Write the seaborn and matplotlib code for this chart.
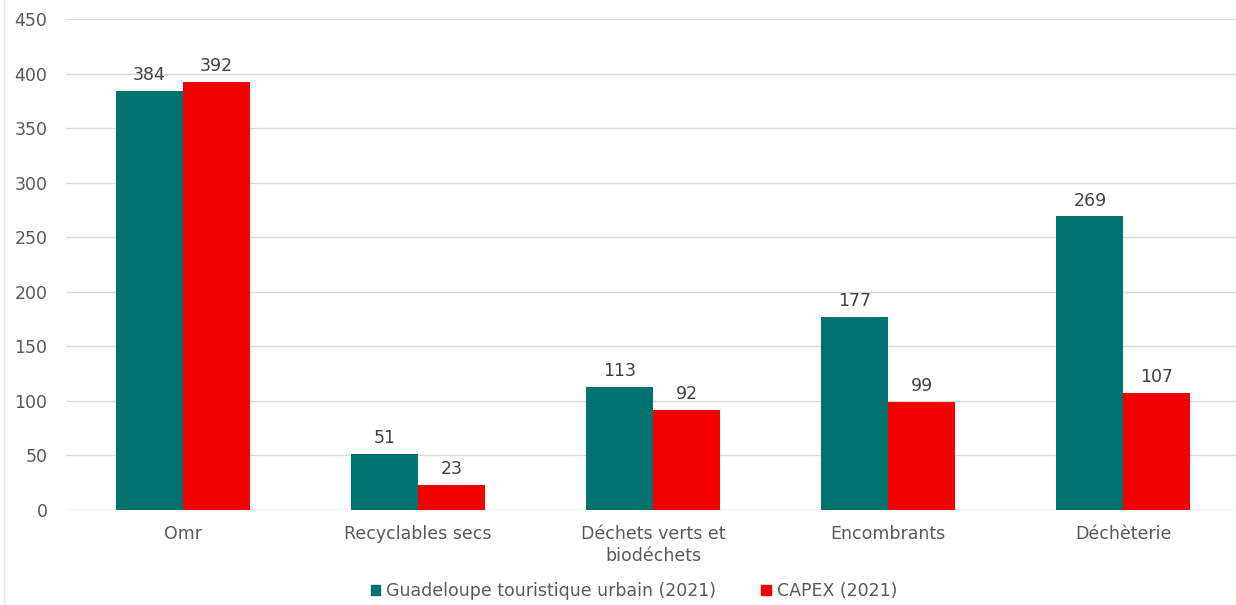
import matplotlib
matplotlib.use("Agg")
import matplotlib.pyplot as plt
import seaborn as sns
import pandas as pd
from matplotlib.lines import Line2D

categories = ["Omr", "Recyclables secs", "Déchets verts et\nbiodéchets", "Encombrants", "Déchèterie"]
series_names = ["Guadeloupe touristique urbain (2021)", "CAPEX (2021)"]
guadeloupe = [384, 51, 113, 177, 269]
capex = [392, 23, 92, 99, 107]
y_ticks = [0, 50, 100, 150, 200, 250, 300, 350, 400, 450]

colors = ["#007370", "#F50000"]
text_color = "#595959"
fs = 12.5

df = pd.DataFrame({
    "Catégorie": categories * 2,
    "Série": [series_names[0]] * len(categories) + [series_names[1]] * len(categories),
    "Valeur": guadeloupe + capex,
})

sns.set_theme(style="white")
plt.rcParams["font.family"] = ["DejaVu Sans"]

fig = plt.figure(figsize=(12.36, 6.05), dpi=100)
ax = fig.add_axes([0.053, 0.157, 0.951, 0.8116])

sns.barplot(data=df, x="Catégorie", y="Valeur", hue="Série", order=categories,
            hue_order=series_names, palette=colors, width=0.57, saturation=1,
            edgecolor="none", linewidth=0, ax=ax, legend=True)

for container in ax.containers:
    ax.bar_label(container, fmt="%d", padding=5, fontsize=fs, color="#404040")

ax.set_ylim(0, 450)
ax.set_yticks(y_ticks)
ax.set_xlim(-0.5, len(categories) - 0.5)
ax.yaxis.grid(True, color="#d9d9d9", linewidth=1)
ax.set_axisbelow(True)
for s in ax.spines.values():
    s.set_visible(False)
ax.axhline(0, color="#d9d9d9", linewidth=1, zorder=0.5)
ax.set_xlabel("")
ax.set_ylabel("")
ax.tick_params(axis="both", length=0, labelsize=fs, labelcolor=text_color)
ax.tick_params(axis="x", pad=11)
ax.tick_params(axis="y", pad=13)
for lbl in ax.get_xticklabels():
    lbl.set_linespacing(1.3)

ax.legend_.remove()
handles = [plt.Rectangle((0, 0), 1, 1, color=c) for c in colors]
fig.legend(handles, series_names, loc="center", bbox_to_anchor=(0.513, 0.023),
           ncol=2, frameon=False, fontsize=fs, labelcolor=text_color,
           handlelength=0.55, handleheight=0.55, handletextpad=0.35, columnspacing=2.6)

fig.add_artist(Line2D([4 / 1236, 4 / 1236], [0, 1], color="#ececec", linewidth=1,
                      transform=fig.transFigure))

fig.savefig("out.png", dpi=100)
